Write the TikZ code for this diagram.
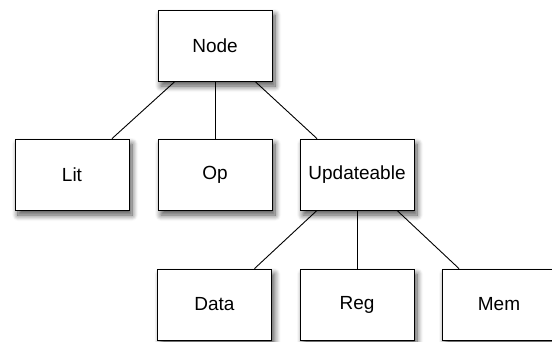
\documentclass[tikz,border=0pt]{standalone}
\usepackage{fontspec}
\setmainfont{Liberation Sans}
\usepackage{tikz}
\usetikzlibrary{shadows.blur}

\begin{document}
\begin{tikzpicture}
  [x=1pt,y=1pt,
   every node/.style={draw,thick,fill=white,rectangle,minimum width=114pt,
     minimum height=71pt,inner sep=0pt,font=\fontsize{19}{22}\selectfont,
     blur shadow={shadow xshift=3pt,shadow yshift=-5pt,shadow blur radius=6pt,
       shadow blur steps=10,shadow opacity=70}}]
  \useasboundingbox (0,0) rectangle (552,-341);
  \node (root) at (215,-45.5)  {Node};
  \node (lit) at (72,-174.5)  {Lit};
  \node (op) at (215,-174.5) {Op};
  \node (upd) at (357,-174.5) {Updateable};
  \node (data) at (214.5,-304.5) {Data};
  \node (reg) at (357,-304.5) {Reg};
  \node (mem) at (499,-304.5) {Mem};

  \foreach \from/\to/\dx in {root/lit/-40pt,root/op/0pt,root/upd/40pt,upd/data/-40pt,upd/reg/0pt,upd/mem/40pt}
    \draw[line width=0.9pt] ([xshift=\dx]\from.south) -- ([xshift=-\dx]\to.north);

\end{tikzpicture}
\end{document}
